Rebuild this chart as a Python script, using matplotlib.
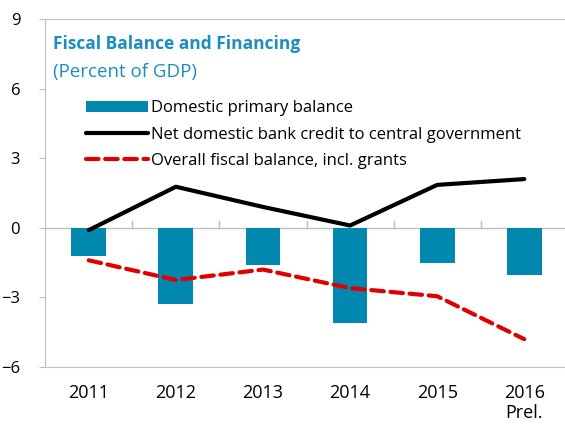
import numpy as np
import matplotlib.pyplot as plt

plt.rcParams['font.family'] = ['Open Sans', 'DejaVu Sans']

years = ["2011", "2012", "2013", "2014", "2015", "2016\nPrel."]
primary_balance = [-1.2, -3.3, -1.6, -4.1, -1.5, -2.05]
bank_credit = [-0.1, 1.77, 0.9, 0.1, 1.85, 2.1]
overall_balance = [-1.4, -2.25, -1.8, -2.6, -2.95, -4.8]

teal = "#0088AE"
title_col = "#1C8DBF"
grey = "#BFBFBF"

fig = plt.figure(figsize=(5.65, 4.29), dpi=100)
ax = fig.add_axes([0.08, 0.1445, 0.925, 0.8112])
x = np.arange(len(years))

bars = ax.bar(x, primary_balance, width=0.4, color=teal, label="Domestic primary balance", zorder=2)
l1, = ax.plot(x, bank_credit, color="black", lw=3, label="Net domestic bank credit to central government",
              zorder=3, solid_capstyle='round')
l2, = ax.plot(x, overall_balance, color="#E00000", lw=3, ls=(0, (3.0, 1.6)), dash_capstyle='round',
              label="Overall fiscal balance, incl. grants", zorder=3)

# zero line with small ticks between categories
ax.axhline(0, color=grey, lw=1, zorder=1)
for xb in np.arange(0.5, len(years) - 1, 1):
    ax.plot([xb, xb], [0, 0.3], color=grey, lw=1, zorder=1)

ax.set_xlim(-0.5, len(years) - 0.5)
ax.set_ylim(-6, 9)
ax.set_yticks([-6, -3, 0, 3, 6, 9])
ax.set_xticks(x)
ax.set_xticklabels(years, fontsize=13)
ax.tick_params(axis='x', length=0, pad=12)
ax.tick_params(axis='y', labelsize=12, length=4, color=grey, pad=14)
for s in ax.spines.values():
    s.set_color(grey)

ax.text(0.015, 0.955, "Fiscal Balance and Financing", transform=ax.transAxes,
        fontsize=12.5, fontweight='bold', color=title_col, va='top')
ax.text(0.015, 0.875, "(Percent of GDP)", transform=ax.transAxes,
        fontsize=13.5, color=title_col, va='top')

ax.legend([bars, l1, l2], [bars.get_label(), l1.get_label(), l2.get_label()],
          loc='upper left', bbox_to_anchor=(0.065, 0.785), frameon=False, fontsize=12,
          handlelength=3.7, handletextpad=0.2, labelspacing=0.62, borderaxespad=0)

fig.savefig("out.png", dpi=100)
